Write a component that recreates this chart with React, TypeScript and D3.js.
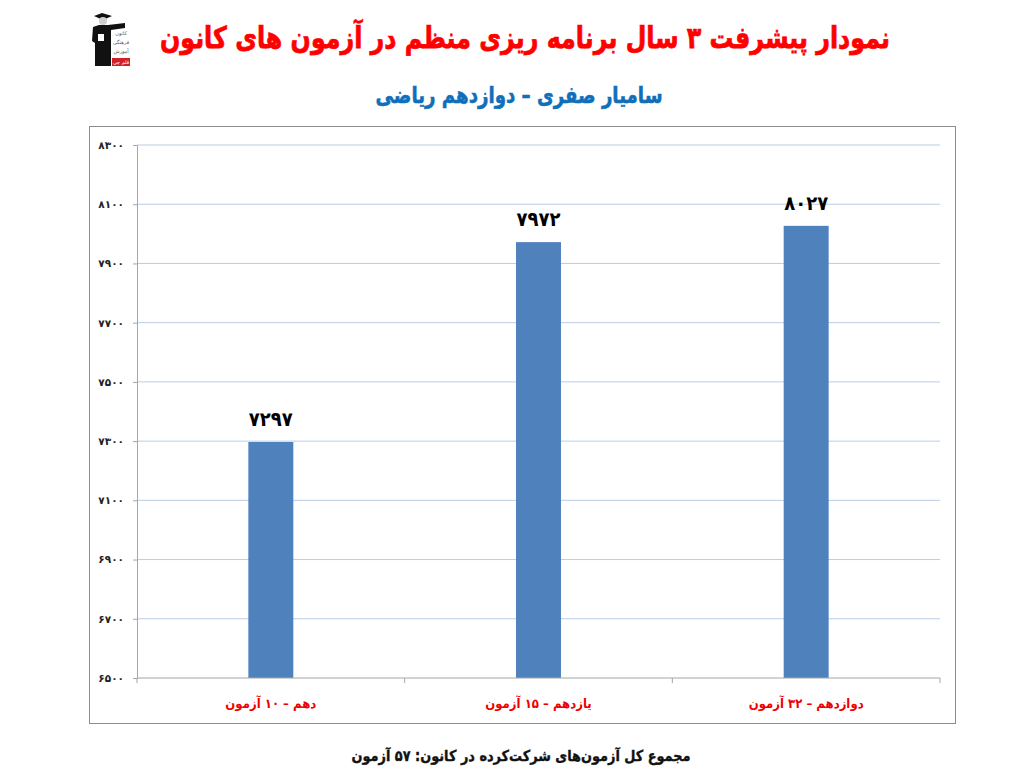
import React, { useEffect, useRef } from "react";
import * as d3 from "d3";

const grades = ["دهم – ۱۰ آزمون", "یازدهم – ۱۵ آزمون", "دوازدهم – ۳۲ آزمون"];
const scores = [7297, 7972, 8027];
const yTicks = [6500, 6700, 6900, 7100, 7300, 7500, 7700, 7900, 8100, 8300];
const titleText = "نمودار پیشرفت ۳ سال برنامه ریزی منظم در آزمون های کانون";
const subtitleText = "سامیار صفری – دوازدهم ریاضی";
const footerText = "مجموع کل آزمون‌های شرکت‌کرده در کانون: ۵۷ آزمون";
const logoLines = ["کانون", "فرهنگی", "آموزش"];
const logoBadge = "قلم چی";

const width = 1010;
const height = 777;
const margin = { top: 145, right: 70, bottom: 99, left: 137 };
const font = "'DejaVu Sans', sans-serif";

const toPersian = (n: number) =>
  String(n).replace(/\d/g, (d) => "۰۱۲۳۴۵۶۷۸۹"[+d]);

export default function App() {
  const svgRef = useRef<SVGSVGElement | null>(null);

  useEffect(() => {
    if (!svgRef.current) return;
    const svg = d3.select(svgRef.current);
    svg.selectAll("*").remove();

    const x = d3
      .scaleBand()
      .domain(grades)
      .range([margin.left, width - margin.right])
      .paddingInner(0.832)
      .paddingOuter(0.416);
    const y = d3
      .scaleLinear()
      .domain([6500, 8300])
      .range([height - margin.bottom, margin.top]);

    // the reference font is narrower than DejaVu, so squeeze the glyphs a bit
    const squeeze = (sel: any, factor: number) =>
      sel.each(function (this: SVGTextElement) {
        const w = this.getComputedTextLength();
        d3.select(this)
          .attr("textLength", w * factor)
          .attr("lengthAdjust", "spacingAndGlyphs");
      });

    // chart frame
    svg
      .append("rect")
      .attr("x", 89.5)
      .attr("y", 126.5)
      .attr("width", 866)
      .attr("height", 597)
      .attr("fill", "#fff")
      .attr("stroke", "#8c8c8c")
      .attr("stroke-width", 1);

    // grid lines
    svg
      .append("g")
      .selectAll("line")
      .data(yTicks.slice(1))
      .enter()
      .append("line")
      .attr("x1", margin.left)
      .attr("x2", width - margin.right)
      .attr("y1", (d) => y(d))
      .attr("y2", (d) => y(d))
      .attr("stroke", "#b9cde5")
      .attr("stroke-width", 1);

    // bars
    svg
      .append("g")
      .selectAll("rect")
      .data(scores)
      .enter()
      .append("rect")
      .attr("x", (_, i) => x(grades[i])!)
      .attr("y", (d) => y(d))
      .attr("width", x.bandwidth())
      .attr("height", (d) => y(6500) - y(d))
      .attr("fill", "#4f81bd");

    // value labels
    const valueLabels = svg
      .append("g")
      .selectAll("text")
      .data(scores)
      .enter()
      .append("text")
      .attr("x", (_, i) => x(grades[i])! + x.bandwidth() / 2)
      .attr("y", (d) => y(d) - 16)
      .attr("text-anchor", "middle")
      .attr("font-family", font)
      .attr("font-weight", "bold")
      .attr("font-size", 20)
      .attr("fill", "#000")
      .text((d) => toPersian(d));
    squeeze(valueLabels, 0.9);

    // y axis
    const yAxis = svg
      .append("g")
      .attr("transform", `translate(${margin.left},0)`)
      .call(
        d3
          .axisLeft(y)
          .tickValues(yTicks)
          .tickSize(4)
          .tickPadding(9)
          .tickFormat((d) => toPersian(+d))
      );
    yAxis.selectAll("path,line").attr("stroke", "#a6a6a6");
    yAxis
      .selectAll("text")
      .attr("font-family", font)
      .attr("font-weight", "bold")
      .attr("font-size", 10.5)
      .attr("fill", "#222");

    // x axis, ticks sit between the categories
    const step = x.step();
    const xAxisG = svg.append("g");
    xAxisG
      .append("line")
      .attr("x1", margin.left)
      .attr("x2", width - margin.right)
      .attr("y1", y(6500))
      .attr("y2", y(6500))
      .attr("stroke", "#a6a6a6");
    xAxisG
      .selectAll("line.tick")
      .data(d3.range(grades.length + 1))
      .enter()
      .append("line")
      .attr("class", "tick")
      .attr("x1", (i) => margin.left + i * step)
      .attr("x2", (i) => margin.left + i * step)
      .attr("y1", y(6500))
      .attr("y2", y(6500) + 5)
      .attr("stroke", "#a6a6a6");
    const gradeLabels = xAxisG
      .selectAll("text")
      .data(grades)
      .enter()
      .append("text")
      .attr("x", (d) => x(d)! + x.bandwidth() / 2)
      .attr("y", 708)
      .attr("text-anchor", "middle")
      .attr("direction", "rtl")
      .attr("font-family", font)
      .attr("font-weight", "bold")
      .attr("font-size", 13)
      .attr("fill", "#f00000")
      .text((d) => d);
    squeeze(gradeLabels, 0.9);

    // headings
    const heading = (t: string, cx: number, cy: number, size: number, fill: string, w: number) =>
      svg
        .append("text")
        .attr("x", cx)
        .attr("y", cy)
        .attr("text-anchor", "middle")
        .attr("direction", "rtl")
        .attr("font-family", font)
        .attr("font-weight", "bold")
        .attr("font-size", size)
        .attr("fill", fill)
        .attr("stroke", fill)
        .attr("stroke-width", size / 40)
        .attr("textLength", w)
        .attr("lengthAdjust", "spacingAndGlyphs")
        .text(t);
    heading(titleText, 525, 48, 30, "#ff0000", 730);
    heading(subtitleText, 519, 103, 23, "#0f6fba", 287);
    heading(footerText, 521, 761, 15, "#111", 339);

    // logo, a rough graduate figure with the small sign beside it
    const logo = svg.append("g").attr("transform", "translate(90,13)");
    logo.append("path").attr("fill", "#111").attr("d", "M4 3 L12 0 L22 3 L13 7 Z");
    logo.append("circle").attr("cx", 13).attr("cy", 8).attr("r", 4).attr("fill", "#cfcfcf");
    logo
      .append("path")
      .attr("fill", "#111")
      .attr("d", "M3 14 L9 12 L18 12 L35 10 L35 15 L21 17 L21 53 L5 53 L5 30 L2 28 Z");
    logo.append("rect").attr("x", 8).attr("y", 21).attr("width", 6).attr("height", 7).attr("fill", "#fff");
    logo
      .selectAll("text.sign")
      .data(logoLines)
      .enter()
      .append("text")
      .attr("class", "sign")
      .attr("x", 31)
      .attr("y", (_, i) => 22 + i * 9)
      .attr("text-anchor", "middle")
      .attr("font-family", font)
      .attr("font-size", 5)
      .attr("fill", "#555")
      .text((d) => d);
    logo.append("rect").attr("x", 22).attr("y", 45).attr("width", 18).attr("height", 8).attr("fill", "#d0202a");
    logo
      .append("text")
      .attr("x", 31)
      .attr("y", 51)
      .attr("text-anchor", "middle")
      .attr("font-family", font)
      .attr("font-size", 5)
      .attr("fill", "#fff")
      .text(logoBadge);
  }, []);

  return (
    <svg
      ref={svgRef}
      width={width}
      height={height}
      style={{ position: "absolute", left: 0, top: 0, background: "#fff" }}
    />
  );
}
